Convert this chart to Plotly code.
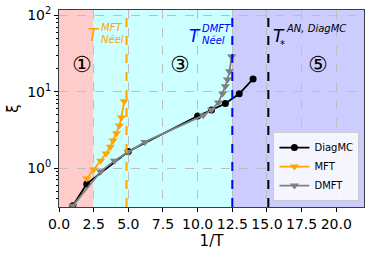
import plotly.graph_objects as go

# Data
diag_x = [1, 2, 5, 10, 11, 12, 13, 14]
diag_y = [0.32, 0.62, 1.65, 4.8, 5.75, 7.0, 9.4, 14.7]

mft_x = [2.0, 2.5, 3.0, 3.4, 3.7, 3.9, 4.15, 4.35, 4.5, 4.7]
mft_y = [0.73, 0.96, 1.25, 1.55, 1.9, 2.3, 2.85, 3.6, 4.6, 7.5]

dmft_x = [1, 3, 4, 5, 6.2, 10.4, 11.0, 11.5, 11.8, 12.0, 12.15, 12.3, 12.45]
dmft_y = [0.32, 0.9, 1.25, 1.63, 2.2, 4.9, 5.8, 7.2, 9.5, 11.8, 14.5, 18.5, 29]

region_edges = [0, 2.5, 12.5, 22]
region_colors = ["rgb(255,204,204)", "rgb(204,255,255)", "rgb(204,204,255)"]

t_neel_mft = 4.87
t_neel_dmft = 12.5
t_star = 15.1

xticks = [0.0, 2.5, 5.0, 7.5, 10.0, 12.5, 15.0, 17.5, 20.0]
yticks = [1, 10, 100]
yticklabels = ["10<sup>0</sup>", "10<sup>1</sup>", "10<sup>2</sup>"]

YMIN, YMAX = -0.51, 2.07

fig = go.Figure()

shapes = []
for i in range(3):
    shapes.append(dict(type="rect", xref="x", yref="paper", x0=region_edges[i], x1=region_edges[i+1],
                       y0=0, y1=1, fillcolor=region_colors[i], line_width=0, layer="below"))
for xv, col in [(t_neel_mft, "orange"), (t_neel_dmft, "blue"), (t_star, "black")]:
    shapes.append(dict(type="line", xref="x", yref="paper", x0=xv, x1=xv, y0=0, y1=1,
                       line=dict(color=col, width=2, dash="dash")))

fig.add_trace(go.Scatter(x=diag_x, y=diag_y, mode="lines+markers", name="DiagMC",
                         line=dict(color="black", width=1.8),
                         marker=dict(symbol="circle", size=7, color="black")))
fig.add_trace(go.Scatter(x=mft_x, y=mft_y, mode="lines+markers", name="MFT",
                         line=dict(color="orange", width=1.8),
                         marker=dict(symbol="triangle-down", size=8, color="orange")))
fig.add_trace(go.Scatter(x=dmft_x, y=dmft_y, mode="lines+markers", name="DMFT",
                         line=dict(color="gray", width=1.8),
                         marker=dict(symbol="triangle-down", size=8, color="gray")))

def ly(py):
    return YMAX - (py - 10) / 76.5

def dx(px):
    return (px - 59.3) / 13.86

font = "DejaVu Sans"
ann = []
# circled numbers
for px, t in [(82, "①"), (180, "③"), (318, "⑤")]:
    ann.append(dict(x=dx(px), y=ly(65), text=t, showarrow=False, font=dict(size=22, color="black", family=font)))

def tlabel(px, py, sup, sub, col):
    ann.append(dict(x=dx(px), y=ly(py), text="<i>T</i>", showarrow=False,
                    font=dict(size=17, color=col, family=font)))
    ann.append(dict(x=dx(px + 5), y=ly(py - 7), text="<i>%s</i>" % sup, showarrow=False, xanchor="left",
                    font=dict(size=10, color=col, family=font)))
    if sub:
        ann.append(dict(x=dx(px + 5), y=ly(py + 5), text="<i>%s</i>" % sub, showarrow=False, xanchor="left",
                        font=dict(size=10, color=col, family=font)))

tlabel(94, 35, "MFT", "Néel", "orange")
tlabel(195, 36, "DMFT", "Néel", "blue")
tlabel(279, 36, "AN, DiagMC", None, "black")
ann.append(dict(x=dx(283), y=ly(45), text="<i>*</i>", showarrow=False, font=dict(size=10, color="black", family=font)))

fig.update_layout(
    width=374, height=254,
    margin=dict(l=59, r=10, t=10, b=47, autoexpand=False),
    paper_bgcolor="white", plot_bgcolor="white",
    shapes=shapes, annotations=ann,
    font=dict(family=font, size=14, color="black"),
    showlegend=True,
    legend=dict(x=0.985, y=0.03, xanchor="right", yanchor="bottom",
                bgcolor="rgba(255,255,255,0.8)", bordercolor="rgb(204,204,204)", borderwidth=1,
                font=dict(size=10, family=font), tracegroupgap=0, itemwidth=30),
    xaxis=dict(range=[0, 22], tickvals=xticks, ticktext=["%.1f" % v for v in xticks],
               showgrid=True, gridcolor="rgb(190,190,190)", griddash="dash", gridwidth=1,
               ticks="outside", ticklen=4, tickcolor="black", automargin=False,
               showline=True, linecolor="rgb(60,60,60)", linewidth=1, mirror=True,
               title=dict(text="1/T", font=dict(size=15), standoff=2), zeroline=False),
    yaxis=dict(type="log", range=[YMIN, YMAX], tickvals=yticks, ticktext=yticklabels,
               showgrid=True, gridcolor="rgb(190,190,190)", griddash="dash", gridwidth=1,
               ticks="outside", ticklen=4, tickcolor="black", automargin=False,
               minor=dict(ticks="outside", ticklen=2, tickcolor="black", showgrid=False,
                          tickvals=[v * 10**e for e in [-1, 0, 1] for v in range(2, 10)]),
               showline=True, linecolor="rgb(60,60,60)", linewidth=1, mirror=True,
               title=dict(text="ξ", font=dict(size=15), standoff=4), zeroline=False),
)

fig.write_html("out.html", config={"displayModeBar": False},
               post_script="document.body.style.margin='0px';document.body.style.overflow='hidden';")
